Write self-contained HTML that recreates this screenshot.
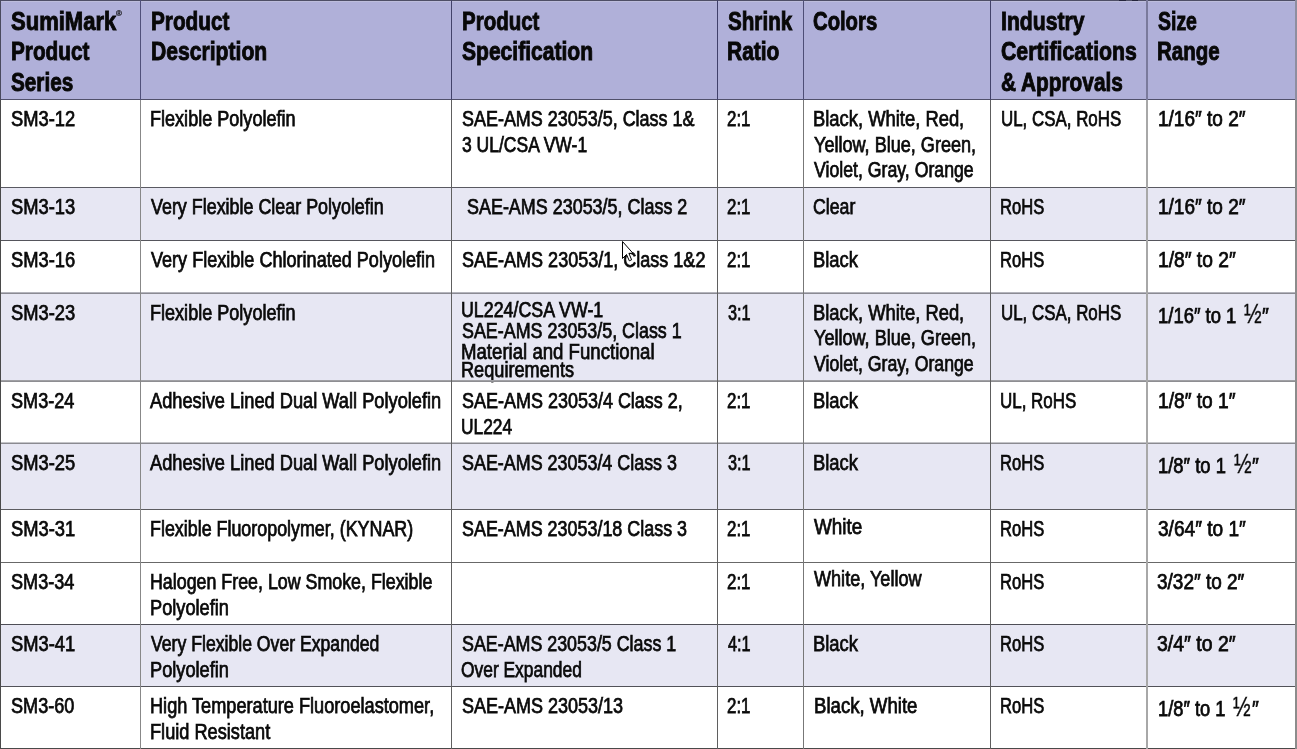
<!DOCTYPE html>
<html><head><meta charset="utf-8"><title>SumiMark Product Series</title>
<style>
html,body{margin:0;padding:0;background:#fff;}
body{width:1297px;height:749px;position:relative;overflow:hidden;font-family:"Liberation Sans",Arial,sans-serif;}
.bg{position:absolute;}
.ln{position:absolute;}
.t,.h{position:absolute;white-space:pre;transform-origin:0 0;}
.t{font-weight:normal;font-size:21.30px;line-height:30px;height:30px;color:#0a0a0a;-webkit-text-stroke:0.75px #0a0a0a;}
.h{font-weight:bold;font-size:25.00px;line-height:36px;height:36px;color:#080808;-webkit-text-stroke:0.90px #080808;}
.reg{position:absolute;font-size:8.0px;line-height:10px;color:#111;font-weight:bold;-webkit-text-stroke:0.2px #111;}
</style></head><body>

<div class="bg" style="left:0;top:0;width:1297px;height:99px;background:#b0b0d9"></div>
<div class="bg" style="left:0;top:187px;width:1297px;height:53px;background:#e7e7f3"></div>
<div class="bg" style="left:0;top:293px;width:1297px;height:88px;background:#e7e7f3"></div>
<div class="bg" style="left:0;top:443px;width:1297px;height:66px;background:#e7e7f3"></div>
<div class="bg" style="left:0;top:624px;width:1297px;height:62px;background:#e7e7f3"></div>
<div style="position:absolute;left:0;top:0;width:1297px;height:749px;filter:grayscale(1)">
<div class="h" style="left:10.80px;top:3.34px;transform:scaleX(0.8814)">SumiMark</div>
<div class="h" style="left:10.77px;top:33.44px;transform:scaleX(0.8298)">Product</div>
<div class="h" style="left:10.80px;top:63.54px;transform:scaleX(0.8293)">Series</div>
<div class="h" style="left:150.67px;top:3.34px;transform:scaleX(0.8308)">Product</div>
<div class="h" style="left:150.65px;top:33.44px;transform:scaleX(0.8451)">Description</div>
<div class="h" style="left:461.58px;top:3.34px;transform:scaleX(0.8192)">Product</div>
<div class="h" style="left:461.90px;top:33.44px;transform:scaleX(0.8424)">Specification</div>
<div class="h" style="left:728.00px;top:3.34px;transform:scaleX(0.8255)">Shrink</div>
<div class="h" style="left:727.16px;top:33.44px;transform:scaleX(0.8378)">Ratio</div>
<div class="h" style="left:813.09px;top:3.34px;transform:scaleX(0.8101)">Colors</div>
<div class="h" style="left:1000.55px;top:3.34px;transform:scaleX(0.8473)">Industry</div>
<div class="h" style="left:1000.55px;top:33.44px;transform:scaleX(0.8502)">Certifications</div>
<div class="h" style="left:1000.57px;top:63.54px;transform:scaleX(0.8325)">&amp; Approvals</div>
<div class="h" style="left:1158.00px;top:3.34px;transform:scaleX(0.7781)">Size</div>
<div class="h" style="left:1157.18px;top:33.44px;transform:scaleX(0.8212)">Range</div>
<div class="t" style="left:10.90px;top:103.62px;transform:scaleX(0.8613)">SM3-12</div>
<div class="t" style="left:10.90px;top:191.62px;transform:scaleX(0.8613)">SM3-13</div>
<div class="t" style="left:10.90px;top:244.62px;transform:scaleX(0.8613)">SM3-16</div>
<div class="t" style="left:10.90px;top:297.62px;transform:scaleX(0.8613)">SM3-23</div>
<div class="t" style="left:10.90px;top:385.62px;transform:scaleX(0.8498)">SM3-24</div>
<div class="t" style="left:10.90px;top:447.62px;transform:scaleX(0.8613)">SM3-25</div>
<div class="t" style="left:10.90px;top:513.62px;transform:scaleX(0.8613)">SM3-31</div>
<div class="t" style="left:10.90px;top:566.62px;transform:scaleX(0.8498)">SM3-34</div>
<div class="t" style="left:10.90px;top:628.62px;transform:scaleX(0.8613)">SM3-41</div>
<div class="t" style="left:10.90px;top:690.62px;transform:scaleX(0.8498)">SM3-60</div>
<div class="t" style="left:150.35px;top:103.62px;transform:scaleX(0.8481)">Flexible Polyolefin</div>
<div class="t" style="left:150.80px;top:191.62px;transform:scaleX(0.8402)">Very Flexible Clear Polyolefin</div>
<div class="t" style="left:150.80px;top:244.62px;transform:scaleX(0.8481)">Very Flexible Chlorinated Polyolefin</div>
<div class="t" style="left:150.35px;top:297.62px;transform:scaleX(0.8481)">Flexible Polyolefin</div>
<div class="t" style="left:150.10px;top:385.62px;transform:scaleX(0.8562)">Adhesive Lined Dual Wall Polyolefin</div>
<div class="t" style="left:150.10px;top:447.62px;transform:scaleX(0.8562)">Adhesive Lined Dual Wall Polyolefin</div>
<div class="t" style="left:149.96px;top:513.62px;transform:scaleX(0.8391)">Flexible Fluoropolymer, (KYNAR)</div>
<div class="t" style="left:150.16px;top:566.62px;transform:scaleX(0.8369)">Halogen Free, Low Smoke, Flexible</div>
<div class="t" style="left:150.14px;top:592.52px;transform:scaleX(0.8553)">Polyolefin</div>
<div class="t" style="left:150.50px;top:628.62px;transform:scaleX(0.8281)">Very Flexible Over Expanded</div>
<div class="t" style="left:150.14px;top:654.52px;transform:scaleX(0.8553)">Polyolefin</div>
<div class="t" style="left:150.15px;top:690.62px;transform:scaleX(0.8523)">High Temperature Fluoroelastomer,</div>
<div class="t" style="left:150.15px;top:716.52px;transform:scaleX(0.8540)">Fluid Resistant</div>
<div class="t" style="left:461.70px;top:103.62px;transform:scaleX(0.8429)">SAE-AMS 23053/5, Class 1&amp;</div>
<div class="t" style="left:461.70px;top:129.52px;transform:scaleX(0.8216)">3 UL/CSA VW-1</div>
<div class="t" style="left:466.50px;top:191.62px;transform:scaleX(0.8422)">SAE-AMS 23053/5, Class 2</div>
<div class="t" style="left:461.70px;top:244.62px;transform:scaleX(0.8462)">SAE-AMS 23053/1, Class 1&amp;2</div>
<div class="t" style="left:460.76px;top:294.52px;transform:scaleX(0.8365)">UL224/CSA VW-1</div>
<div class="t" style="left:461.60px;top:315.92px;transform:scaleX(0.8399)">SAE-AMS 23053/5, Class 1</div>
<div class="t" style="left:460.73px;top:336.52px;transform:scaleX(0.8742)">Material and Functional</div>
<div class="t" style="left:460.75px;top:354.52px;transform:scaleX(0.8524)">Requirements</div>
<div class="t" style="left:461.80px;top:385.62px;transform:scaleX(0.8441)">SAE-AMS 23053/4 Class 2,</div>
<div class="t" style="left:460.98px;top:411.52px;transform:scaleX(0.8157)">UL224</div>
<div class="t" style="left:461.80px;top:447.62px;transform:scaleX(0.8409)">SAE-AMS 23053/4 Class 3</div>
<div class="t" style="left:461.80px;top:513.62px;transform:scaleX(0.8411)">SAE-AMS 23053/18 Class 3</div>
<div class="t" style="left:462.00px;top:628.62px;transform:scaleX(0.8378)">SAE-AMS 23053/5 Class 1</div>
<div class="t" style="left:461.18px;top:654.52px;transform:scaleX(0.8163)">Over Expanded</div>
<div class="t" style="left:462.00px;top:690.62px;transform:scaleX(0.8453)">SAE-AMS 23053/13</div>
<div class="t" style="left:727.21px;top:103.62px;transform:scaleX(0.7925)">2:1</div>
<div class="t" style="left:727.21px;top:191.62px;transform:scaleX(0.7925)">2:1</div>
<div class="t" style="left:727.21px;top:244.62px;transform:scaleX(0.7925)">2:1</div>
<div class="t" style="left:728.00px;top:297.62px;transform:scaleX(0.7649)">3:1</div>
<div class="t" style="left:727.21px;top:385.62px;transform:scaleX(0.7925)">2:1</div>
<div class="t" style="left:728.00px;top:447.62px;transform:scaleX(0.7649)">3:1</div>
<div class="t" style="left:727.21px;top:513.62px;transform:scaleX(0.7925)">2:1</div>
<div class="t" style="left:727.21px;top:566.62px;transform:scaleX(0.7925)">2:1</div>
<div class="t" style="left:728.00px;top:628.62px;transform:scaleX(0.7649)">4:1</div>
<div class="t" style="left:727.21px;top:690.62px;transform:scaleX(0.7925)">2:1</div>
<div class="t" style="left:813.04px;top:103.62px;transform:scaleX(0.8633)">Black, White, Red,</div>
<div class="t" style="left:813.90px;top:129.52px;transform:scaleX(0.8488)">Yellow, Blue, Green,</div>
<div class="t" style="left:813.90px;top:155.42px;transform:scaleX(0.8311)">Violet, Gray, Orange</div>
<div class="t" style="left:813.04px;top:297.62px;transform:scaleX(0.8633)">Black, White, Red,</div>
<div class="t" style="left:813.90px;top:323.12px;transform:scaleX(0.8488)">Yellow, Blue, Green,</div>
<div class="t" style="left:813.90px;top:348.62px;transform:scaleX(0.8311)">Violet, Gray, Orange</div>
<div class="t" style="left:812.97px;top:191.62px;transform:scaleX(0.8313)">Clear</div>
<div class="t" style="left:812.94px;top:244.62px;transform:scaleX(0.8633)">Black</div>
<div class="t" style="left:812.94px;top:385.62px;transform:scaleX(0.8633)">Black</div>
<div class="t" style="left:812.94px;top:447.62px;transform:scaleX(0.8633)">Black</div>
<div class="t" style="left:813.90px;top:511.82px;transform:scaleX(0.8863)">White</div>
<div class="t" style="left:813.90px;top:564.42px;transform:scaleX(0.8490)">White, Yellow</div>
<div class="t" style="left:812.94px;top:628.62px;transform:scaleX(0.8633)">Black</div>
<div class="t" style="left:814.03px;top:690.62px;transform:scaleX(0.8738)">Black, White</div>
<div class="t" style="left:1000.61px;top:103.62px;transform:scaleX(0.7938)">UL, CSA, RoHS</div>
<div class="t" style="left:1000.22px;top:191.62px;transform:scaleX(0.7787)">RoHS</div>
<div class="t" style="left:1000.22px;top:244.62px;transform:scaleX(0.7787)">RoHS</div>
<div class="t" style="left:1000.22px;top:447.62px;transform:scaleX(0.7787)">RoHS</div>
<div class="t" style="left:1000.22px;top:513.62px;transform:scaleX(0.7787)">RoHS</div>
<div class="t" style="left:1000.22px;top:566.62px;transform:scaleX(0.7787)">RoHS</div>
<div class="t" style="left:1000.22px;top:628.62px;transform:scaleX(0.7787)">RoHS</div>
<div class="t" style="left:1000.22px;top:690.62px;transform:scaleX(0.7787)">RoHS</div>
<div class="t" style="left:1000.61px;top:297.62px;transform:scaleX(0.7938)">UL, CSA, RoHS</div>
<div class="t" style="left:1000.20px;top:385.62px;transform:scaleX(0.7955)">UL, RoHS</div>
<div class="t" style="left:1157.61px;top:103.62px;transform:scaleX(0.8930)">1/16″ to 2″</div>
<div class="t" style="left:1157.61px;top:191.62px;transform:scaleX(0.8930)">1/16″ to 2″</div>
<div class="t" style="left:1157.70px;top:244.62px;transform:scaleX(0.9020)">1/8″ to 2″</div>
<div class="t" style="left:1157.63px;top:300.72px;transform:scaleX(0.8658)">1/16″ to 1</div>
<div class="t" style="left:1157.60px;top:385.62px;transform:scaleX(0.8997)">1/8″ to 1″</div>
<div class="t" style="left:1157.64px;top:450.72px;transform:scaleX(0.8640)">1/8″ to 1</div>
<div class="t" style="left:1158.00px;top:513.62px;transform:scaleX(0.8961)">3/64″ to 1″</div>
<div class="t" style="left:1157.40px;top:566.62px;transform:scaleX(0.8910)">3/32″ to 2″</div>
<div class="t" style="left:1157.40px;top:628.62px;transform:scaleX(0.9124)">3/4″ to 2″</div>
<div class="t" style="left:1157.74px;top:693.72px;transform:scaleX(0.8587)">1/8″ to 1</div>
<div class="t" style="font-size:28.5px;line-height:40px;height:40px;left:1243.90px;top:292.92px;transform:scaleX(0.740);-webkit-text-stroke:0.40px #0a0a0a">½</div>
<div class="t" style="left:1262.20px;top:300.72px;transform:scaleX(0.900)">″</div>
<div class="t" style="font-size:28.5px;line-height:40px;height:40px;left:1233.50px;top:442.92px;transform:scaleX(0.740);-webkit-text-stroke:0.40px #0a0a0a">½</div>
<div class="t" style="left:1251.80px;top:450.72px;transform:scaleX(0.900)">″</div>
<div class="t" style="font-size:28.5px;line-height:40px;height:40px;left:1233.20px;top:685.92px;transform:scaleX(0.740);-webkit-text-stroke:0.40px #0a0a0a">½</div>
<div class="t" style="left:1251.50px;top:693.72px;transform:scaleX(0.900)">″</div>
<div class="reg" style="left:116.0px;top:8.5px">&#174;</div>
</div>
<div class="ln" style="left:1px;top:1px;width:1294px;height:1px;background:#bdbddc"></div>
<div class="ln" style="left:0;top:0px;width:1295px;height:1px;background:#4e4e66"></div>
<div class="ln" style="left:0;top:99px;width:1295px;height:1px;background:#50506a"></div>
<div class="ln" style="left:0;top:187px;width:1295px;height:1px;background:#5a5a62"></div>
<div class="ln" style="left:0;top:240px;width:1295px;height:1px;background:#55555c"></div>
<div class="ln" style="left:0;top:292px;width:1295px;height:1px;background:#b4b4bc"></div>
<div class="ln" style="left:0;top:293px;width:1295px;height:1px;background:#8a8a92"></div>
<div class="ln" style="left:0;top:380px;width:1295px;height:1px;background:#a0a0a4"></div>
<div class="ln" style="left:0;top:381px;width:1295px;height:1px;background:#8e8e92"></div>
<div class="ln" style="left:0;top:442px;width:1295px;height:1px;background:#c4c4c8"></div>
<div class="ln" style="left:0;top:443px;width:1295px;height:1px;background:#8a8a90"></div>
<div class="ln" style="left:0;top:509px;width:1295px;height:1px;background:#5c5c60"></div>
<div class="ln" style="left:0;top:562px;width:1295px;height:1px;background:#686868"></div>
<div class="ln" style="left:0;top:624px;width:1295px;height:1px;background:#4e4e56"></div>
<div class="ln" style="left:0;top:686px;width:1295px;height:1px;background:#525258"></div>
<div class="ln" style="left:0;top:748px;width:1295px;height:1px;background:#4a4a4a"></div>
<div class="ln" style="left:0px;top:0;width:1px;height:100px;background:#4a4a5e"></div>
<div class="ln" style="left:0px;top:100px;width:1px;height:649px;background:#4a4a4a"></div>
<div class="ln" style="left:140px;top:0;width:1px;height:100px;background:#50507a"></div>
<div class="ln" style="left:140px;top:100px;width:1px;height:649px;background:#888888"></div>
<div class="ln" style="left:451px;top:0;width:1px;height:100px;background:#42426a"></div>
<div class="ln" style="left:451px;top:100px;width:1px;height:649px;background:#606060"></div>
<div class="ln" style="left:717px;top:0;width:1px;height:100px;background:#40406a"></div>
<div class="ln" style="left:717px;top:100px;width:1px;height:649px;background:#5f5f5f"></div>
<div class="ln" style="left:803px;top:0;width:1px;height:100px;background:#4e4e76"></div>
<div class="ln" style="left:803px;top:100px;width:1px;height:649px;background:#777777"></div>
<div class="ln" style="left:990px;top:0;width:1px;height:100px;background:#42426a"></div>
<div class="ln" style="left:990px;top:100px;width:1px;height:649px;background:#5e5e5e"></div>
<div class="ln" style="left:1146px;top:0;width:2px;height:100px;background:#7a7a9c"></div>
<div class="ln" style="left:1146px;top:100px;width:2px;height:649px;background:#a8a8a8"></div>
<div class="ln" style="left:1295px;top:0;width:2px;height:100px;background:#8e8ea0"></div>
<div class="ln" style="left:1295px;top:100px;width:2px;height:649px;background:#8c8c8c"></div>
<div class="ln" style="left:1119px;top:0;width:7px;height:1px;background:#23233a"></div>
<div class="ln" style="left:1132px;top:0;width:6px;height:1px;background:#23233a"></div>
<svg width="1297" height="749" style="position:absolute;left:0;top:0" viewBox="0 0 1297 749"><path d="M622.5 241.5 L622.5 258.5 L626.5 254.5 L629.3 260.8 L631.6 259.8 L628.9 253.3 L633 253.3 Z" fill="#fff" stroke="#000" stroke-width="1" stroke-linejoin="miter"/></svg>
</body></html>
